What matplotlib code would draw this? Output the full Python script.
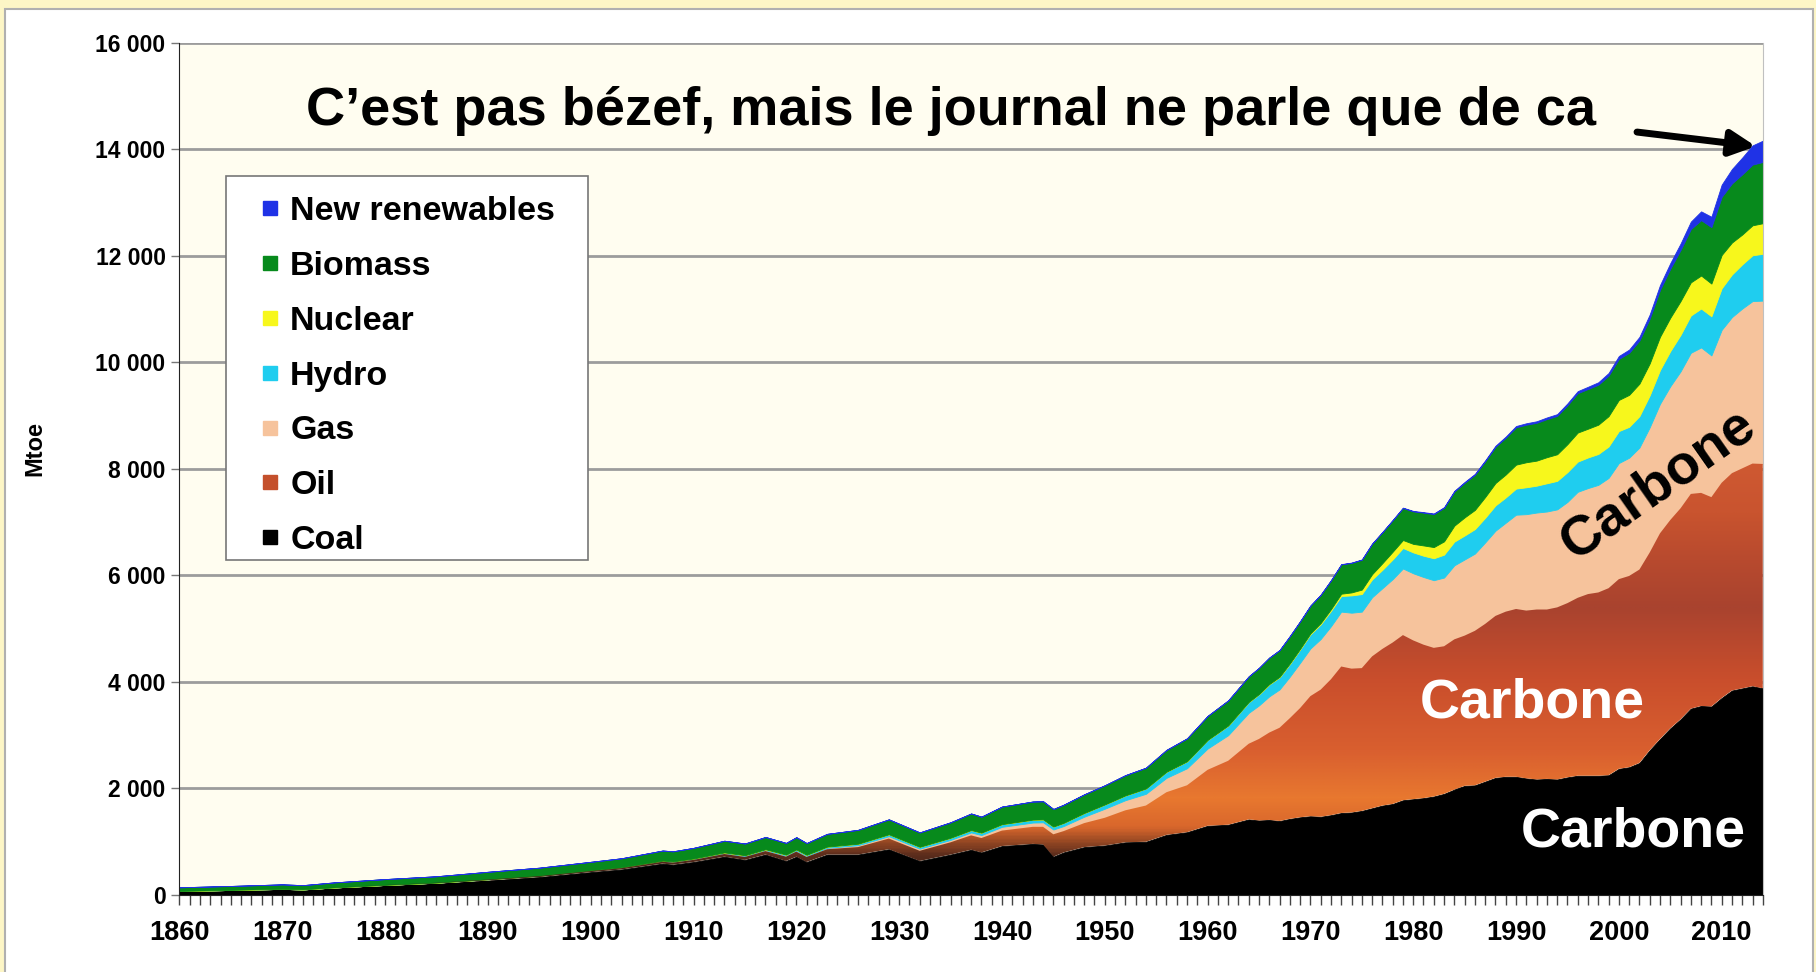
import numpy as np
import matplotlib
matplotlib.use('Agg')
import matplotlib.pyplot as plt
from matplotlib.colors import LinearSegmentedColormap
from matplotlib.lines import Line2D
from matplotlib.patches import Rectangle

plt.rcParams['font.family'] = ['Liberation Sans', 'DejaVu Sans']
plt.rcParams['font.weight'] = 'bold'

# years (coarser before 1965, yearly after)
years = [1860, 1865, 1870, 1872, 1875, 1880, 1885, 1890, 1895, 1900, 1903, 1907, 1908, 1910,
         1913, 1915, 1917, 1919, 1920, 1921, 1923, 1926, 1929, 1932, 1935, 1937, 1938, 1940,
         1943, 1944, 1945, 1946, 1948, 1950, 1952, 1954, 1956, 1958, 1960, 1962, 1964] \
        + list(range(1965, 2015))

# Mtoe per source
coal = [75, 95, 115, 105, 140, 185, 225, 280, 340, 430, 480, 590, 570, 620,
        720, 660, 760, 640, 720, 620, 760, 760, 860, 640, 760, 850, 800, 920,
        960, 950, 720, 800, 900, 930, 990, 1000, 1130, 1180, 1300, 1320, 1420,
        1400, 1410, 1390, 1430, 1460, 1480, 1470, 1500, 1540, 1550, 1580, 1630, 1680, 1710, 1780,
        1800, 1820, 1850, 1900, 1980, 2050, 2060, 2130, 2200, 2220, 2220, 2190, 2170, 2180, 2170,
        2210, 2240, 2240, 2240, 2250, 2370, 2400, 2480, 2720, 2930, 3130, 3300, 3500, 3550, 3540,
        3700, 3840, 3880, 3920, 3882]
oil = [0, 0, 0, 0, 1, 3, 5, 10, 15, 20, 25, 35, 38, 40,
       50, 55, 65, 80, 95, 95, 100, 140, 200, 190, 230, 270, 270, 290,
       320, 330, 420, 400, 450, 520, 600, 680, 800, 880, 1050, 1200, 1420,
       1530, 1640, 1750, 1890, 2050, 2254, 2386, 2551, 2750, 2700, 2680, 2850, 2940, 3030, 3100,
       2980, 2880, 2790, 2770, 2820, 2820, 2900, 2960, 3040, 3100, 3150, 3150, 3190, 3180, 3230,
       3270, 3340, 3410, 3440, 3510, 3560, 3590, 3630, 3710, 3860, 3910, 3960, 4030, 4000, 3930,
       4040, 4080, 4130, 4180, 4211]
gas = [0, 0, 0, 0, 0, 1, 2, 5, 6, 8, 9, 12, 13, 15,
       17, 18, 19, 20, 20, 20, 25, 35, 45, 40, 45, 55, 55, 70,
       80, 85, 90, 95, 120, 170, 190, 220, 270, 320, 400, 480, 580,
       630, 680, 720, 780, 850, 895, 950, 995, 1030, 1050, 1060, 1110, 1140, 1190, 1250,
       1260, 1270, 1270, 1290, 1390, 1430, 1450, 1530, 1600, 1670, 1770, 1810, 1820, 1840, 1840,
       1900, 1990, 1990, 2020, 2070, 2180, 2220, 2290, 2350, 2430, 2510, 2570, 2650, 2730, 2660,
       2870, 2930, 3000, 3050, 3066]
hydro = [0, 0, 0, 0, 0, 0, 0, 1, 2, 5, 6, 8, 9, 10,
         12, 14, 15, 18, 20, 20, 23, 28, 35, 35, 40, 45, 46, 50,
         55, 55, 55, 60, 70, 80, 90, 100, 115, 130, 160, 180, 200,
         208, 223, 228, 237, 250, 265, 275, 288, 294, 325, 330, 335, 345, 370, 385,
         392, 400, 412, 430, 445, 450, 460, 463, 475, 475, 490, 505, 505, 530, 535,
         560, 567, 575, 580, 590, 600, 580, 590, 600, 635, 660, 685, 700, 730, 735,
         780, 800, 830, 860, 879]
nuclear = [0, 0, 0, 0, 0, 0, 0, 0, 0, 0, 0, 0, 0, 0,
           0, 0, 0, 0, 0, 0, 0, 0, 0, 0, 0, 0, 0, 0,
           0, 0, 0, 0, 0, 0, 0, 0, 0, 1, 2, 3, 5,
           6, 8, 9, 12, 13, 18, 25, 33, 43, 56, 84, 98, 125, 145, 150,
           160, 193, 210, 250, 300, 340, 360, 390, 420, 430, 450, 470, 470, 490, 500,
           525, 545, 540, 550, 570, 585, 600, 610, 600, 625, 627, 635, 622, 620, 614,
           626, 600, 560, 563, 574]
biomass = [70, 75, 85, 80, 95, 110, 120, 140, 150, 160, 170, 190, 190, 200,
           220, 220, 230, 220, 230, 220, 240, 260, 280, 270, 290, 310, 300, 330,
           340, 340, 330, 340, 350, 360, 380, 390, 410, 430, 450, 470, 480,
           490, 495, 500, 510, 515, 520, 530, 540, 550, 555, 560, 570, 580, 590, 600,
           610, 615, 620, 630, 640, 650, 660, 670, 680, 690, 700, 705, 710, 715, 720,
           730, 740, 745, 750, 760, 770, 790, 810, 840, 880, 920, 960, 1000, 1040, 1060,
           1090, 1110, 1130, 1140, 1150]
renewables = [0] * 41 + [
    3, 3, 3, 4, 4, 4, 4, 5, 5, 5, 6, 6, 7, 7, 8,
    9, 10, 11, 12, 14, 15, 17, 18, 20, 22, 25, 27, 29, 31, 33,
    35, 38, 42, 46, 50, 55, 60, 68, 78, 90, 105, 120, 140, 165, 195,
    230, 270, 315, 360, 400]

names = ['Coal', 'Oil', 'Gas', 'Hydro', 'Nuclear', 'Biomass', 'New renewables']
series = [coal, oil, gas, hydro, nuclear, biomass, renewables]
colors = ['#000000', '#c4502c', '#f6c39c', '#1fcdef', '#f7f71c', '#078a1c', '#1f32e6']

fig = plt.figure(figsize=(18.16, 9.72), dpi=100)
fig.patch.set_facecolor('#fdf6c6')
fig.patches.append(Rectangle((5 / 1816, -0.02), 1808 / 1816, 1 - 9 / 972 + 0.02,
                             transform=fig.transFigure, facecolor='white',
                             edgecolor='#b0b0b0', lw=1.5, zorder=-10))

ax = fig.add_axes([0.0988, 0.0792, 0.8719, 0.8768])
ax.set_facecolor('#fffdf0')

x = np.array(years, dtype=float)
base = np.zeros(len(x))
oil_poly = None
for name, vals, c in zip(names, series, colors):
    top = base + np.array(vals, dtype=float)
    if name == 'Oil':
        oil_poly = ax.fill_between(x, base, top, facecolor='none', lw=0, zorder=2)
    else:
        ax.fill_between(x, base, top, facecolor=c, edgecolor=c, lw=0.6, zorder=2)
    base = top

# sunset-like texture for the oil band
oil_cmap = LinearSegmentedColormap.from_list('oil', [
    (0.0, '#2e1a14'), (0.08, '#5a2c1c'), (0.14, '#d9672c'), (0.2, '#e8782f'),
    (0.3, '#d95f2f'), (0.45, '#c94e2c'), (0.6, '#a9432f'), (0.7, '#b84a2e'),
    (0.8, '#c9542f'), (1.0, '#d45e35')])
grad = np.linspace(0, 1, 400)[:, None] * np.ones((1, 10))
im = ax.imshow(grad, extent=[1860, 2014, 0, 9000], origin='lower', aspect='auto',
               cmap=oil_cmap, zorder=2, interpolation='bilinear')
im.set_clip_path(oil_poly.get_paths()[0], transform=ax.transData)

ax.set_xlim(1860, 2014)
ax.set_ylim(0, 16000)

yt = list(range(0, 16001, 2000))
ax.set_yticks(yt)
ax.set_yticklabels([f"{v:,}".replace(",", " ") for v in yt])
ax.set_xticks(range(1860, 2011, 10))
ax.set_xticks(range(1860, 2015), minor=True)
ax.tick_params(axis='x', which='both', length=7, width=1, color='#444444', pad=11, labelsize=19.5)
ax.tick_params(axis='y', length=6, width=1, color='#777777', pad=4, labelsize=16.5)

ax.yaxis.grid(True, color='#9c9c9c', lw=2)
ax.set_axisbelow(True)
ax.spines['top'].set_visible(False)
ax.spines['right'].set_color('#c0c0c0')
ax.spines['left'].set_color('#222222')
ax.spines['bottom'].set_color('#222222')

ax.set_ylabel('Mtoe', fontsize=17, fontweight='bold')
ax.yaxis.set_label_coords(-0.0843, 0.524)

# legend box drawn separately so its size matches the original
ax.add_patch(Rectangle((0.0292, 0.3926), 0.229, 0.4513, transform=ax.transAxes,
                       facecolor='white', edgecolor='#777777', lw=1.2, zorder=4))
leg_names = ['New renewables', 'Biomass', 'Nuclear', 'Hydro', 'Gas', 'Oil', 'Coal']
handles = []
for name in leg_names:
    c = colors[names.index(name)]
    handles.append(Line2D([], [], marker='s', ls='none', markersize=10,
                          markerfacecolor=c, markeredgecolor=c))
leg = ax.legend(handles, leg_names, loc='upper left', bbox_to_anchor=(0.0442, 0.832),
                borderaxespad=0, frameon=False, prop={'weight': 'bold', 'size': 24.5},
                handlelength=0.6, handletextpad=0.3, labelspacing=0.7, borderpad=0.3)
leg.set_zorder(5)

ax.text(1935, 14715, "C\u2019est pas bézef, mais le journal ne parle que de ca",
        ha='center', va='center', fontsize=39, fontweight='bold', zorder=5)
ax.annotate('', xy=(2013.6, 14050), xytext=(2001.5, 14330),
            arrowprops=dict(arrowstyle='-|>', lw=5, color='black', mutation_scale=38),
            zorder=5)

ax.text(2001.4, 1170, 'Carbone', color='white', ha='center', va='center',
        fontsize=40, fontweight='bold', zorder=5)
ax.text(1991.6, 3590, 'Carbone', color='white', ha='center', va='center',
        fontsize=40, fontweight='bold', zorder=5)
ax.text(2003.9, 7700, 'Carbone', color='black', ha='center', va='center',
        fontsize=40, fontweight='bold', rotation=35, zorder=5)

fig.savefig('out.png', dpi=100)
